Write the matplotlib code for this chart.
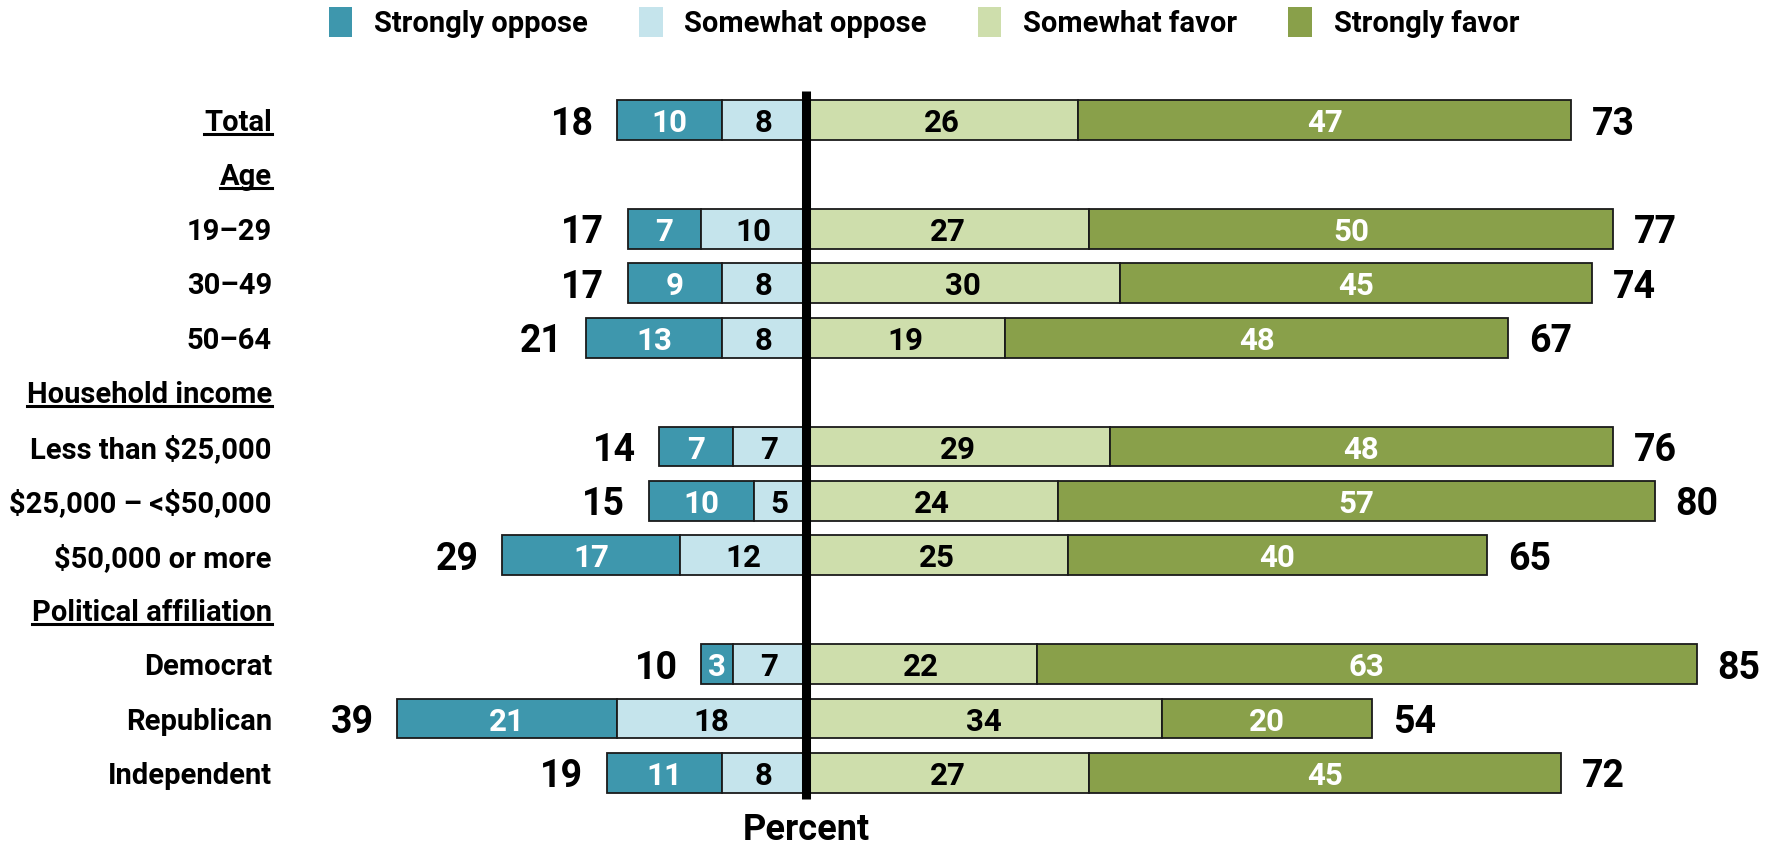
import matplotlib
matplotlib.use("Agg")
import matplotlib.pyplot as plt
from matplotlib import font_manager
from matplotlib.patches import Patch
from matplotlib.lines import Line2D

# Rows top to bottom; section headers carry no bars
row_labels = ["Total", "Age", "19–29", "30–49", "50–64",
              "Household income", "Less than $25,000", "$25,000 – <$50,000", "$50,000 or more",
              "Political affiliation", "Democrat", "Republican", "Independent"]
underlined = ["Total", "Age", "Household income", "Political affiliation"]
section_headers = ["Age", "Household income", "Political affiliation"]

# Values for the rows that have bars (same order as row_labels minus headers)
strongly_oppose = [10, 7, 9, 13, 7, 10, 17, 3, 21, 11]
somewhat_oppose = [8, 10, 8, 8, 7, 5, 12, 7, 18, 8]
somewhat_favor = [26, 27, 30, 19, 29, 24, 25, 22, 34, 27]
strongly_favor = [47, 50, 45, 48, 48, 57, 40, 63, 20, 45]
oppose_total = [18, 17, 17, 21, 14, 15, 29, 10, 39, 19]
favor_total = [73, 77, 74, 67, 76, 80, 65, 85, 54, 72]

series_names = ["Strongly oppose", "Somewhat oppose", "Somewhat favor", "Strongly favor"]
colors = ["#3E97AD", "#C5E4EC", "#CEDEAC", "#89A04A"]
text_colors = ["white", "black", "black", "white"]

available = {f.name for f in font_manager.fontManager.ttflist}
font = "Liberation Sans Narrow" if "Liberation Sans Narrow" in available else "Roboto"
plt.rcParams["font.family"] = [font, "DejaVu Sans"]
plt.rcParams["font.weight"] = "bold"

fig = plt.figure(figsize=(17.77, 8.46), dpi=100)
ax = fig.add_axes([0, 0, 1, 1])
ax.axis("off")
ax.set_xlim(-76.9, 92.65)
ax.set_ylim(13.342, -2.206)

ypos = [i for i, lab in enumerate(row_labels) if lab not in section_headers]

oppose_sum = [a + b for a, b in zip(strongly_oppose, somewhat_oppose)]
favor_sum = [a + b for a, b in zip(somewhat_favor, strongly_favor)]

h = 0.73
edge = dict(edgecolor="#1a1a1a", linewidth=1.3)
b1 = ax.barh(ypos, strongly_oppose, left=[-s for s in oppose_sum], height=h, color=colors[0], **edge)
b2 = ax.barh(ypos, somewhat_oppose, left=[-s for s in somewhat_oppose], height=h, color=colors[1], **edge)
b3 = ax.barh(ypos, somewhat_favor, left=0, height=h, color=colors[2], **edge)
b4 = ax.barh(ypos, strongly_favor, left=somewhat_favor, height=h, color=colors[3], **edge)

for cont, vals, tc in zip([b1, b2, b3, b4],
                          [strongly_oppose, somewhat_oppose, somewhat_favor, strongly_favor],
                          text_colors):
    texts = ax.bar_label(cont, labels=[str(v) for v in vals], label_type="center",
                         color=tc, fontsize=22.5, fontweight="bold")
    for t in texts:
        t.set_va("center_baseline")

# net totals on each side
for y, s, t in zip(ypos, oppose_sum, oppose_total):
    ax.annotate(str(t), xy=(-s, y), xytext=(-17, 0), textcoords="offset points",
                ha="right", va="center_baseline", fontsize=27, fontweight="bold")
for y, s, t in zip(ypos, favor_sum, favor_total):
    ax.annotate(str(t), xy=(s, y), xytext=(15, 0), textcoords="offset points",
                ha="left", va="center_baseline", fontsize=27, fontweight="bold")

# zero line
ax.plot([0, 0], [-0.53, 12.48], color="black", lw=6.5, solid_capstyle="butt", zorder=5)

label_texts = {}
for i, lab in enumerate(row_labels):
    label_texts[lab] = ax.text(-50.95, i, lab, ha="right", va="center_baseline",
                               fontsize=21, fontweight="bold", parse_math=False)

ax.text(0, 12.98, "Percent", ha="center", va="center_baseline", fontsize=26, fontweight="bold")

handles = [Patch(facecolor=c, edgecolor="none", label=n) for c, n in zip(colors, series_names)]
fig.legend(handles=handles, loc="center", bbox_to_anchor=(0.52, 0.973), ncol=4,
           frameon=False, fontsize=21, handlelength=0.8, handleheight=1.2,
           columnspacing=1.75, handletextpad=0.75)

# underline the section headers
fig.canvas.draw()
W, H = fig.bbox.width, fig.bbox.height
for lab in underlined:
    bb = label_texts[lab].get_window_extent()
    yl = (bb.y0 + 3) / H
    fig.add_artist(Line2D([bb.x0 / W, bb.x1 / W], [yl, yl], color="black", lw=2.2,
                          transform=fig.transFigure))

fig.savefig("out.png", dpi=100)
